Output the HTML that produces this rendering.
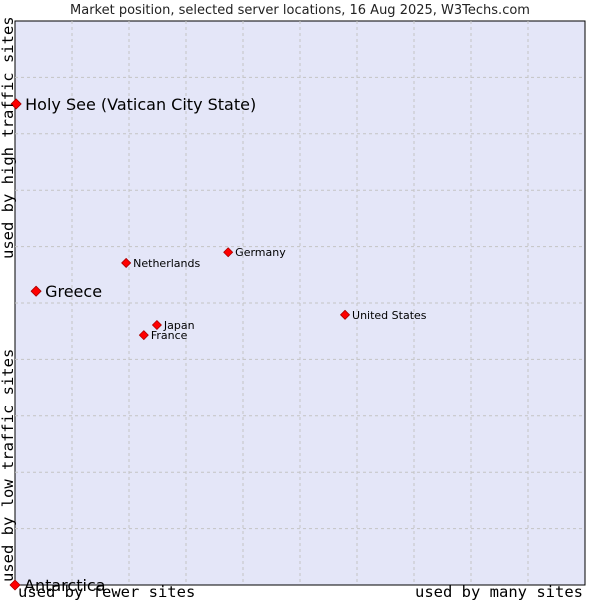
<!DOCTYPE html>
<html><head><meta charset="utf-8"><style>body{margin:0;background:#fff}svg{display:block}</style></head>
<body>
<svg id="c" width="600" height="600" xmlns="http://www.w3.org/2000/svg">
<text x="300" y="14" text-anchor="middle" font-family="DejaVu Sans, sans-serif" font-size="13" fill="#222">Market position, selected server locations, 16 Aug 2025, W3Techs.com</text>
<rect x="15" y="21" width="570" height="564" fill="#e4e6f8" stroke="#000" stroke-width="1"/>
<g id="grid"></g>
<g id="pts"></g>
<text x="18" y="597" font-family="DejaVu Sans Mono, monospace" font-size="15.5" fill="#000">used by fewer sites</text>
<text x="583" y="597" text-anchor="end" font-family="DejaVu Sans Mono, monospace" font-size="15.5" fill="#000">used by many sites</text>
<text transform="translate(13,582) rotate(-90)" font-family="DejaVu Sans Mono, monospace" font-size="15.5" fill="#000">used by low traffic sites</text>
<text transform="translate(13,259) rotate(-90)" font-family="DejaVu Sans Mono, monospace" font-size="15.5" fill="#000">used by high traffic sites</text>
</svg>
<script>
const names=["Holy See (Vatican City State)","Greece","Netherlands","Germany","Japan","France","United States","Antarctica"];
const xVals=[0.002,0.037,0.195,0.374,0.249,0.226,0.579,0.0];
const yVals=[0.853,0.521,0.571,0.590,0.461,0.443,0.479,0.0];
const big=[true,true,false,false,false,false,false,true];
const L=15,T=21,W=570,H=564,NS="http://www.w3.org/2000/svg";
const sx=v=>L+v*W, sy=v=>T+H-v*H;
const grid=document.getElementById('grid');
for(let i=1;i<10;i++){
  let a=document.createElementNS(NS,'line');
  
  
  a.setAttribute('x1',sx(i/10));a.setAttribute('x2',sx(i/10));a.setAttribute('y1',T);a.setAttribute('y2',T+H);
  a.setAttribute('stroke','#c4c4c4');a.setAttribute('stroke-dasharray','3,3');grid.appendChild(a);
  let b=document.createElementNS(NS,'line');
  
  
  b.setAttribute('y1',sy(i/10));b.setAttribute('y2',sy(i/10));b.setAttribute('x1',L);b.setAttribute('x2',L+W);
  b.setAttribute('stroke','#c4c4c4');b.setAttribute('stroke-dasharray','3,3');grid.appendChild(b);
}
const pts=document.getElementById('pts');
names.forEach((n,i)=>{
  const x=sx(xVals[i]),y=sy(yVals[i]);
  const g=document.createElementNS(NS,'g');
  
  
  const r=big[i]?5:4.5;
  const p=document.createElementNS(NS,'polygon');
  p.setAttribute('points',`${x},${y-r} ${x+r},${y} ${x},${y+r} ${x-r},${y}`);
  p.setAttribute('fill','#f00');
  p.setAttribute('stroke','#a00');
  p.setAttribute('stroke-width','0.8');
  p.setAttribute('stroke-linejoin','round');
  g.appendChild(p);
  const t=document.createElementNS(NS,'text');
  t.setAttribute('x',x+(big[i]?9:7));t.setAttribute('y',y+(big[i]?6:4));
  t.setAttribute('font-family','DejaVu Sans, sans-serif');
  t.setAttribute('font-size',big[i]?16:11);
  t.setAttribute('fill','#000');
  t.textContent=n;g.appendChild(t);
  pts.appendChild(g);
});
</script>
</body></html>
